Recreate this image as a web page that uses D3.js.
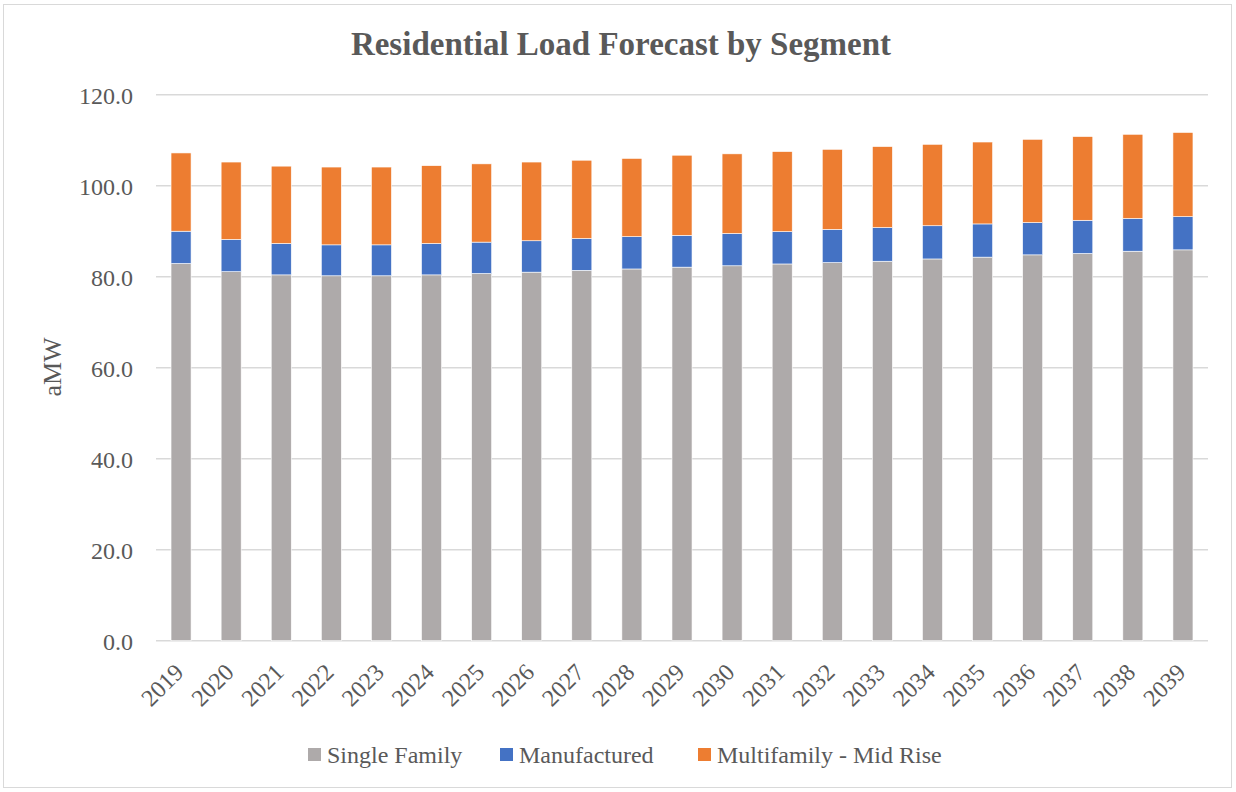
<!DOCTYPE html>
<html><head><meta charset="utf-8">
<script src="https://cdn.jsdelivr.net/npm/d3@7"></script>
<style>body{margin:0;background:#fff;} svg{display:block;} text{font-family:"Liberation Serif","DejaVu Serif",serif;fill:#595959;}</style>
</head><body>
<script>
const years = ["2019","2020","2021","2022","2023","2024","2025","2026","2027","2028","2029","2030","2031","2032","2033","2034","2035","2036","2037","2038","2039"];
const singleFamily = [82.9,81.1,80.4,80.2,80.2,80.4,80.7,81.0,81.4,81.7,82.1,82.4,82.8,83.1,83.4,83.9,84.3,84.8,85.1,85.6,85.9];
const manufactured = [7.1,7.1,6.9,6.8,6.8,6.9,6.9,6.9,7.0,7.1,7.0,7.1,7.1,7.3,7.4,7.3,7.3,7.1,7.3,7.2,7.3];
const multifamily = [17.2,17.0,17.0,17.1,17.1,17.1,17.2,17.3,17.2,17.2,17.6,17.5,17.6,17.6,17.8,17.9,18.0,18.3,18.4,18.5,18.5];
const seriesNames = ["Single Family","Manufactured","Multifamily - Mid Rise"];
const seriesColors = ["#AEAAAA","#4472C4","#ED7D31"];
const yTicks = [0,20,40,60,80,100,120];

const W=1236,H=792;
const svg=d3.select("body").append("svg").attr("width",W).attr("height",H);
svg.append("rect").attr("x",3.5).attr("y",4.5).attr("width",W-8).attr("height",H-9).attr("fill","#fff").attr("stroke","#D9D9D9").attr("stroke-width",1);

const pLeft=156,pRight=1208,pTop=94.7,pBottom=640.7;
const x=d3.scaleBand().domain(years).range([pLeft,pRight]).paddingInner(0.6).paddingOuter(0.3);
const y=d3.scaleLinear().domain([0,120]).range([pBottom,pTop]);

// grid
svg.append("g").selectAll("line").data(yTicks).join("line")
  .attr("x1",pLeft).attr("x2",pRight).attr("y1",d=>y(d)).attr("y2",d=>y(d))
  .attr("stroke","#D9D9D9").attr("stroke-width",1.5);

// y axis labels
const yAxis=d3.axisLeft(y).tickValues(yTicks).tickFormat(d3.format(".1f")).tickSize(0).tickPadding(0);
const yg=svg.append("g").attr("transform",`translate(${pLeft-23},0)`).call(yAxis);
yg.select(".domain").remove();
yg.selectAll("text").style("font-size","24px").attr("fill","#595959").attr("dy","0.35em");

// stacked bars
const table=years.map((yr,i)=>({year:yr,s0:singleFamily[i],s1:manufactured[i],s2:multifamily[i]}));
const stack=d3.stack().keys(["s0","s1","s2"])(table);
svg.append("g").selectAll("g").data(stack).join("g").attr("fill",(d,i)=>seriesColors[i])
  .selectAll("rect").data(d=>d).join("rect")
  .attr("x",d=>x(d.data.year)).attr("width",x.bandwidth())
  .attr("y",d=>y(d[1])).attr("height",d=>y(d[0])-y(d[1]))
  .attr("stroke","#fff").attr("stroke-width",0.6);

// x axis labels
const xAxis=d3.axisBottom(x).tickSize(0).tickPadding(0);
const xg=svg.append("g").attr("transform",`translate(0,${pBottom})`).call(xAxis);
xg.select(".domain").remove();
xg.selectAll("text").style("font-size","24px").attr("fill","#595959")
  .attr("text-anchor","end").attr("dy",0).attr("y",0)
  .attr("transform","translate(4,33) rotate(-45)");

// title
svg.append("text").attr("x",621).attr("y",55).attr("text-anchor","middle")
  .style("font-size","33px").style("font-weight","bold").text("Residential Load Forecast by Segment");

// y title
svg.append("text").attr("transform","translate(61,367) rotate(-90)").attr("text-anchor","middle")
  .style("font-size","26px").text("aMW");

// legend
const legX=[308,500,698];
const lg=svg.append("g").selectAll("g").data(seriesNames).join("g").attr("transform",(d,i)=>`translate(${legX[i]},748)`);
lg.append("rect").attr("width",13).attr("height",13).attr("fill",(d,i)=>seriesColors[i]);
lg.append("text").attr("x",19).attr("y",6.5).attr("dy","0.35em").style("font-size","24px").text(d=>d);
</script>
</body></html>
